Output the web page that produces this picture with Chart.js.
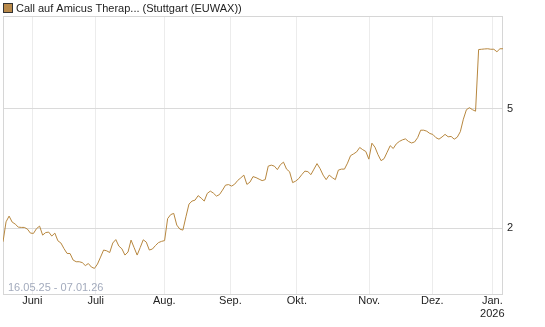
<!DOCTYPE html>
<html>
<head>
<meta charset="utf-8">
<script src="https://cdn.jsdelivr.net/npm/chart.js@4/dist/chart.umd.min.js"></script>
<style>
  html, body { margin: 0; padding: 0; background: #ffffff; }
  #wrap { width: 545px; height: 327px; position: relative; }
</style>
</head>
<body>
<div id="wrap"><canvas id="c"></canvas></div>
<script>
// ---- data ----
const seriesName = "Call auf Amicus Therap... (Stuttgart (EUWAX))";
const dateRangeText = "16.05.25 - 07.01.26";
const prices = [
  1.805, 2.103, 2.197, 2.099, 2.067, 2.020, 2.015, 2.015, 1.989, 1.929,
  1.925, 1.997, 2.035, 1.900, 1.937, 1.944, 1.886, 1.929, 1.819, 1.788,
  1.714, 1.652, 1.650, 1.570, 1.550, 1.550, 1.540, 1.505, 1.529, 1.488,
  1.473, 1.523, 1.606, 1.695, 1.685, 1.663, 1.788, 1.836, 1.747, 1.711,
  1.631, 1.669, 1.829, 1.727, 1.631, 1.727, 1.833, 1.801, 1.695, 1.708,
  1.754, 1.794, 1.811, 1.822, 2.155, 2.222, 2.243, 2.051, 1.989, 1.974,
  2.185, 2.408, 2.464, 2.482, 2.569, 2.521, 2.464, 2.613, 2.659, 2.619,
  2.560, 2.589, 2.680, 2.784, 2.795, 2.763, 2.805, 2.886, 2.943, 3.005,
  2.799, 2.848, 2.971, 2.948, 2.914, 2.881, 2.903, 3.219, 3.243, 3.219,
  3.134, 3.256, 3.318, 3.146, 3.084, 2.838, 2.870, 2.926, 3.016, 3.098,
  3.086, 3.016, 3.146, 3.281, 3.158, 3.005, 2.903, 3.005, 2.948, 2.903,
  3.122, 3.146, 3.146, 3.293, 3.487, 3.535, 3.590, 3.712, 3.650, 3.600,
  3.395, 3.836, 3.721, 3.513, 3.356, 3.408, 3.581, 3.763, 3.683, 3.816,
  3.887, 3.934, 3.964, 3.887, 3.842, 3.872, 4.001, 4.236, 4.236, 4.204,
  4.131, 4.100, 4.001, 3.955, 4.022, 4.103, 4.028, 4.038, 3.955, 4.016,
  4.188, 4.608, 4.954, 5.031, 4.954, 4.898, 7.846, 7.864, 7.883, 7.894,
  7.864, 7.864, 7.715, 7.894, 7.894
];
// month boundaries, in trading-day index units
const monthTickPos = [9.6, 30.4, 52.9, 74.6, 96.4, 120.1, 140.8, 160.5];
const monthLabels = ["Juni", "Juli", "Aug.", "Sep.", "Okt.", "Nov.", "Dez.", ["Jan.", "2026"]];
const yTickValues = [2, 5];

// ---- chart ----
const lineColor = "#b7873f";
const fontFamily = "'Liberation Sans', Arial, sans-serif";

const frame = {
  id: "frame",
  beforeDatasetsDraw(chart) {
    const { ctx, chartArea: a } = chart;
    ctx.save();
    ctx.strokeStyle = "#d6d6d6";
    ctx.lineWidth = 1;
    ctx.strokeRect(Math.round(a.left) + 0.5, Math.round(a.top) + 0.5,
                   Math.round(a.right - a.left) - 1, Math.round(a.bottom - a.top));
    ctx.fillStyle = "#a3abbd";
    ctx.font = "11px " + fontFamily;
    ctx.textBaseline = "alphabetic";
    ctx.textAlign = "left";
    ctx.fillText(dateRangeText, a.left + 5, a.bottom - 3);
    ctx.restore();
  },
  afterDraw(chart) {
    const { ctx } = chart;
    ctx.save();
    ctx.fillStyle = "#b8894a";
    ctx.fillRect(4, 4, 8, 8);
    ctx.strokeStyle = "#333333";
    ctx.lineWidth = 1;
    ctx.strokeRect(3.5, 3.5, 9, 9);
    ctx.fillStyle = "#222222";
    ctx.font = "11px " + fontFamily;
    ctx.textBaseline = "middle";
    ctx.textAlign = "left";
    ctx.fillText(seriesName, 16, 8.5);
    ctx.restore();
  }
};

new Chart(document.getElementById("c"), {
  type: "line",
  data: {
    labels: prices.map((_, i) => i),
    datasets: [{
      label: seriesName,
      data: prices.map((v, i) => ({ x: i, y: v })),
      borderColor: lineColor,
      borderWidth: 1,
      pointRadius: 0,
      tension: 0,
      fill: false
    }]
  },
  plugins: [frame],
  options: {
    responsive: true,
    maintainAspectRatio: false,
    animation: false,
    events: [],
    layout: { padding: { top: 16, left: 3, right: 0, bottom: 0 } },
    plugins: { legend: { display: false }, tooltip: { enabled: false } },
    scales: {
      x: {
        type: "linear",
        min: 0,
        max: prices.length - 1,
        afterBuildTicks: s => { s.ticks = monthTickPos.map(v => ({ value: v })); },
        afterFit: s => { s.height = 33.3; },
        grid: { color: "#ececec", drawTicks: false },
        border: { display: false },
        ticks: {
          autoSkip: false,
          maxRotation: 0,
          padding: 1.5,
          color: "#222222",
          font: { size: 11, family: fontFamily, lineHeight: 1.12 },
          callback: (v, i) => monthLabels[i]
        }
      },
      y: {
        type: "logarithmic",
        position: "right",
        min: 1.214,
        max: 10.14,
        afterBuildTicks: s => { s.ticks = yTickValues.map(v => ({ value: v })); },
        afterFit: s => { s.width = 42; },
        grid: { color: "#dadada", drawTicks: false },
        border: { display: false },
        ticks: {
          padding: 4,
          color: "#222222",
          font: { size: 11, family: fontFamily },
          callback: v => String(v)
        }
      }
    }
  }
});
</script>
</body>
</html>
